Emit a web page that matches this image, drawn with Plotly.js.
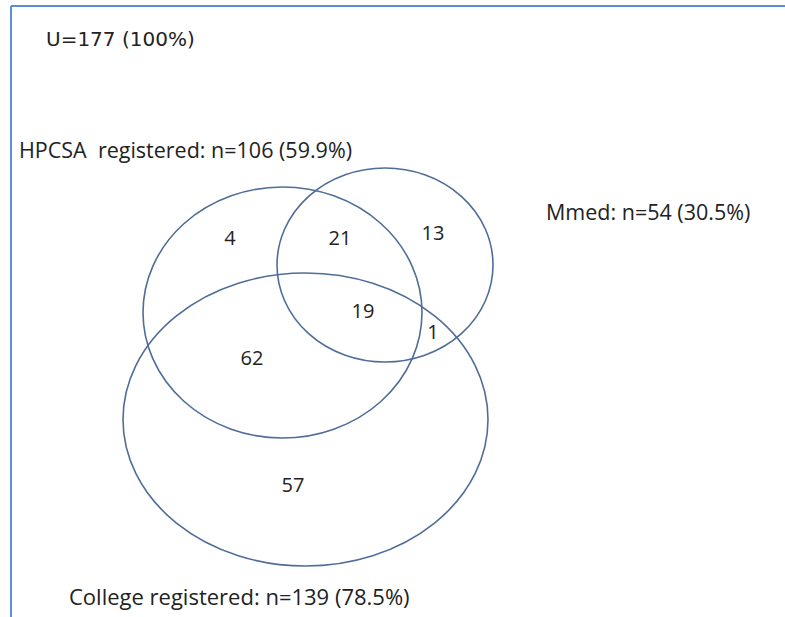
<!DOCTYPE html>
<html>
<head>
<meta charset="utf-8">
<script src="https://cdn.plot.ly/plotly-3.0.1.min.js"></script>
<style>html,body{margin:0;padding:0;background:#fff;}</style>
</head>
<body>
<div id="chart" style="width:785px;height:617px;"></div>
<script>
// ---- data ----
const universeTotal = 177;
const setNames = ["HPCSA\u00a0 registered", "Mmed", "College registered"];
const setSizes = [106, 54, 139];
const regionNames = ["HPCSA only", "HPCSA & Mmed", "Mmed only", "All three", "Mmed & College", "HPCSA & College", "College only"];
const regionCounts = [4, 21, 13, 19, 1, 62, 57];

// ---- layout geometry (pixel space of the 785x617 canvas) ----
const ellipseGeom = [
  {cx: 282.5, cy: 312.5, rx: 139.5, ry: 125.5},
  {cx: 385,   cy: 265,   rx: 108,   ry: 97},
  {cx: 305.5, cy: 419.5, rx: 182.5, ry: 146.5}
];
const setLabelPos = [
  {x: 17, y: 149, size: 21.5},
  {x: 544, y: 211, size: 21.5},
  {x: 67, y: 596, size: 22}
];
const regionPos = [
  [230, 240], [340, 240], [433, 235], [363, 313], [433, 334], [252, 360], [293, 487]
];

const FONT = "Open Sans, Noto Sans, sans-serif";
const TEXTCOL = "#222222";
const LINECOL = "#4f6d98";

const pct = n => (n / universeTotal * 100).toFixed(1) + "%";

const shapes = ellipseGeom.map(g => ({
  type: "circle", xref: "x", yref: "y",
  x0: g.cx - g.rx, x1: g.cx + g.rx, y0: g.cy - g.ry, y1: g.cy + g.ry,
  line: {color: LINECOL, width: 1.6}, fillcolor: "rgba(0,0,0,0)"
}));
// frame lines
shapes.push({type: "line", xref: "x", yref: "y", x0: 11, x1: 785, y0: 6, y1: 6, line: {color: "#5b8fd2", width: 2}});
shapes.push({type: "line", xref: "x", yref: "y", x0: 11, x1: 11, y0: 6, y1: 617, line: {color: "#5b8fd2", width: 2}});

const annotations = [{
  x: 44, y: 39, xref: "x", yref: "y", xanchor: "left", yanchor: "middle", showarrow: false,
  text: "U=" + universeTotal + " (" + (universeTotal / universeTotal * 100).toFixed(0) + "%)",
  font: {family: "DejaVu Sans, sans-serif", size: 20, color: TEXTCOL}
}];
setNames.forEach((nm, i) => {
  annotations.push({
    x: setLabelPos[i].x, y: setLabelPos[i].y, xref: "x", yref: "y",
    xanchor: "left", yanchor: "middle", showarrow: false,
    text: nm + ": n=" + setSizes[i] + " (" + pct(setSizes[i]) + ")",
    font: {family: FONT, size: setLabelPos[i].size, color: TEXTCOL}
  });
});

const trace = {
  type: "scatter", mode: "text",
  x: regionPos.map(p => p[0]), y: regionPos.map(p => p[1]),
  text: regionCounts.map(String),
  customdata: regionNames,
  hovertemplate: "%{customdata}: %{text}<extra></extra>",
  textposition: "middle center",
  textfont: {family: FONT, size: 20, color: TEXTCOL},
  showlegend: false
};

const layout = {
  width: 785, height: 617,
  margin: {l: 0, r: 0, t: 0, b: 0, pad: 0},
  paper_bgcolor: "#ffffff", plot_bgcolor: "#ffffff",
  xaxis: {range: [0, 785], visible: false, fixedrange: true},
  yaxis: {range: [617, 0], visible: false, fixedrange: true},
  shapes: shapes,
  annotations: annotations,
  showlegend: false
};

Plotly.newPlot("chart", [trace], layout, {displayModeBar: false, staticPlot: true});
</script>
</body>
</html>
